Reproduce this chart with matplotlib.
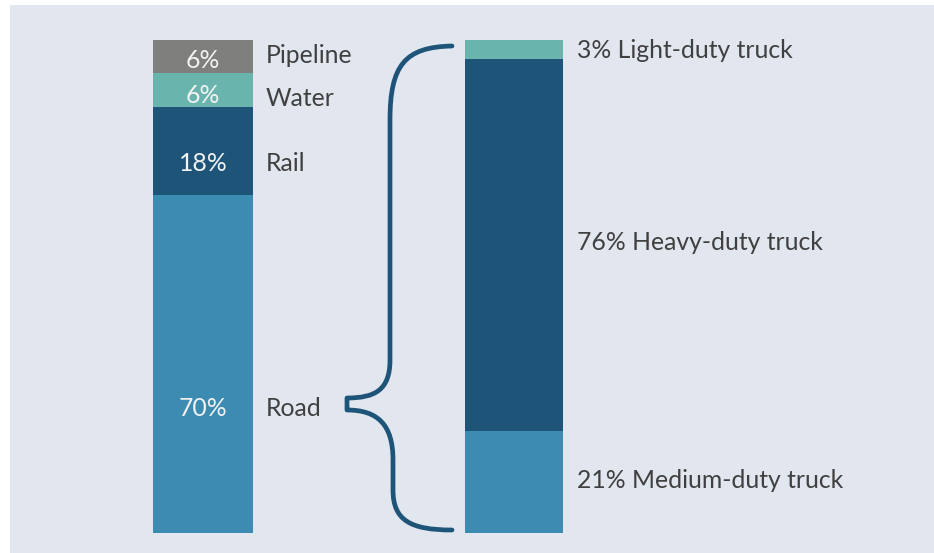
import matplotlib
matplotlib.use("Agg")
import matplotlib.pyplot as plt
from matplotlib.patches import Rectangle, PathPatch
from matplotlib.path import Path

# ---------------- data ----------------
modes = ["Road", "Rail", "Water", "Pipeline"]          # bottom -> top
mode_shares = [68.6, 17.8, 6.9, 6.7]                   # bar heights
mode_labels = ["70%", "18%", "6%", "6%"]
mode_colors = ["#3c8bb0", "#1f5479", "#69b5ae", "#7f807e"]

trucks = ["Medium-duty truck", "Heavy-duty truck", "Light-duty truck"]  # bottom -> top
truck_shares = [20.7, 75.5, 3.8]
truck_labels = ["21%", "76%", "3%"]
truck_colors = ["#3c8bb0", "#1f5479", "#69b5ae"]

# label layout (percent units along the bar)
mode_pct_y = [25.2, 74.9, 88.8, 95.9]
mode_name_y = [25.2, 74.9, 88.1, 96.9]
truck_text_y = [10.7, 59.0, 97.9]

W, H = 934, 553
fig = plt.figure(figsize=(W / 100, H / 100), dpi=100, facecolor="white")

# background panel
bg = Rectangle((10 / W, 0), 1 - 10 / W, (H - 5) / H,
               transform=fig.transFigure, facecolor="#e1e6ef",
               edgecolor="none", zorder=-10)
fig.add_artist(bg)

bar_top_px, bar_bot_px = 40, 533
ax = fig.add_axes([0, (H - bar_bot_px) / H, 1, (bar_bot_px - bar_top_px) / H])
ax.set_xlim(0, W)
ax.set_ylim(0, 100)
ax.axis("off")
ax.patch.set_alpha(0)

TXT = "#404040"
FONT = "Lato"
FS = 17.8

# left stacked bar
bottom = 0
for share, col in zip(mode_shares, mode_colors):
    ax.bar(203, share, width=100, bottom=bottom, color=col, linewidth=0)
    bottom += share
for name, lab, y_pct, y_name in zip(modes, mode_labels, mode_pct_y, mode_name_y):
    ax.text(203, y_pct, lab, ha="center", va="center", color="#f2f2f2",
            fontsize=FS, family=FONT)
    ax.text(266, y_name, name, ha="left", va="center", color=TXT,
            fontsize=FS, family=FONT)

# right stacked bar
bottom = 0
for share, col in zip(truck_shares, truck_colors):
    ax.bar(514, share, width=98, bottom=bottom, color=col, linewidth=0)
    bottom += share
for name, lab, y in zip(trucks, truck_labels, truck_text_y):
    ax.text(577, y, f"{lab} {name}", ha="left", va="center", color=TXT,
            fontsize=FS, family=FONT)

# brace (pixel overlay)
ov = fig.add_axes([0, 0, 1, 1])
ov.set_xlim(0, W)
ov.set_ylim(H, 0)
ov.axis("off")
ov.patch.set_alpha(0)
verts = [(452, 46),
         (405, 47), (390, 65), (390, 120),
         (390, 360),
         (390, 390), (375, 398), (347, 398),
         (347, 410),
         (378, 410), (393, 425), (393, 460),
         (393, 490),
         (393, 520), (410, 530), (452, 530)]
codes = [Path.MOVETO,
         Path.CURVE4, Path.CURVE4, Path.CURVE4,
         Path.LINETO,
         Path.CURVE4, Path.CURVE4, Path.CURVE4,
         Path.LINETO,
         Path.CURVE4, Path.CURVE4, Path.CURVE4,
         Path.LINETO,
         Path.CURVE4, Path.CURVE4, Path.CURVE4]
ov.add_patch(PathPatch(Path(verts, codes), facecolor="none", edgecolor="#1f5479",
                       lw=3.4, capstyle="round", joinstyle="round"))

fig.savefig("out.png", dpi=100, facecolor="white")
